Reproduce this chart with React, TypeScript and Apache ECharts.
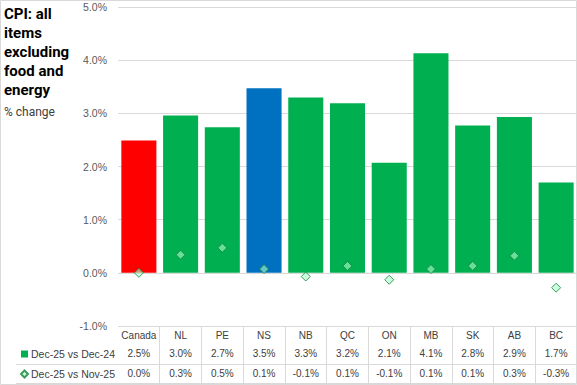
import React, { useEffect, useRef } from 'react';
import * as echarts from 'echarts';

const categories = ['Canada', 'NL', 'PE', 'NS', 'NB', 'QC', 'ON', 'MB', 'SK', 'AB', 'BC'];
const seriesNames = ['Dec-25 vs Dec-24', 'Dec-25 vs Nov-25'];
const yearOverYear = [2.49, 2.96, 2.74, 3.47, 3.3, 3.19, 2.07, 4.13, 2.77, 2.93, 1.7];
const monthOverMonth = [0.0, 0.34, 0.47, 0.07, -0.07, 0.13, -0.13, 0.07, 0.13, 0.32, -0.28];
const yearOverYearLabels = ['2.5%', '3.0%', '2.7%', '3.5%', '3.3%', '3.2%', '2.1%', '4.1%', '2.8%', '2.9%', '1.7%'];
const monthOverMonthLabels = ['0.0%', '0.3%', '0.5%', '0.1%', '-0.1%', '0.1%', '-0.1%', '0.1%', '0.1%', '0.3%', '-0.3%'];
const yMin = -1;
const yMax = 5;
const yInterval = 1;

const GREEN = '#00B050';
const RED = '#FF0000';
const BLUE = '#0070C0';
const GRID = '#d9d9d9';
const barColorFor = (cat: string) => (cat === 'Canada' ? RED : cat === 'NS' ? BLUE : GREEN);

export default function App() {
  const ref = useRef<HTMLDivElement>(null);
  useEffect(() => {
    if (!ref.current) return;
    const chart = echarts.init(ref.current, undefined, { renderer: 'svg' });
    const font = '"Liberation Sans", Arial, sans-serif';
    chart.setOption({
      animation: false,
      textStyle: { fontFamily: font },
      grid: { left: 118, right: 0, top: 7, bottom: 59 },
      legend: {
        orient: 'vertical',
        left: 20,
        top: 347,
        padding: 0,
        itemWidth: 7,
        itemHeight: 7,
        itemGap: 6,
        selectedMode: false,
        textStyle: { fontSize: 10.5, lineHeight: 14, color: '#404040', fontFamily: font, padding: [0, 0, 0, -2] },
        data: [
          { name: seriesNames[0], icon: 'rect' },
          { name: seriesNames[1], icon: 'diamond' },
        ],
      },
      xAxis: {
        type: 'category',
        data: categories,
        position: 'bottom',
        axisLine: { show: false, onZero: false },
        axisTick: {
          show: true,
          length: 58,
          interval: (i: number) => i !== 0,
          lineStyle: { color: GRID },
        },
        axisLabel: {
          interval: 0,
          margin: 1,
          color: '#404040',
          fontSize: 10,
          fontFamily: font,
          formatter: (v: string) => {
            const i = categories.indexOf(v);
            return `{a|${v}}\n{b|${yearOverYearLabels[i]}}\n{c|${monthOverMonthLabels[i]}}`;
          },
          rich: {
            a: { lineHeight: 17, fontSize: 10, color: '#404040', fontFamily: font },
            b: { lineHeight: 18, fontSize: 10, color: '#404040', fontFamily: font },
            c: { lineHeight: 22, fontSize: 10, color: '#404040', fontFamily: font },
          },
        },
      },
      yAxis: {
        type: 'value',
        min: yMin,
        max: yMax,
        interval: yInterval,
        axisLine: { show: false },
        axisTick: { show: false },
        splitLine: { lineStyle: { color: GRID, width: 1 } },
        axisLabel: {
          margin: 11,
          color: '#595959',
          fontSize: 10.5,
          fontFamily: font,
          formatter: (v: number) => `${v.toFixed(1)}%`,
        },
      },
      series: [
        {
          name: seriesNames[0],
          type: 'bar',
          barCategoryGap: '16%',
          itemStyle: { color: GREEN },
          data: yearOverYear.map((v, i) => ({ value: v, itemStyle: { color: barColorFor(categories[i]) } })),
          z: 2,
        },
        {
          name: seriesNames[1],
          type: 'scatter',
          symbol: 'diamond',
          symbolSize: 9,
          itemStyle: {
            color: 'rgba(170,255,200,0.6)',
            borderColor: 'rgba(20,130,60,0.8)',
            borderWidth: 1,
            opacity: 1,
          },
          data: monthOverMonth,
          z: 5,
        },
      ],
      graphic: [
        {
          type: 'text',
          left: 4,
          top: 4,
          style: {
            text: 'CPI: all\nitems\nexcluding\nfood and\nenergy',
            fontFamily: 'Roboto, sans-serif',
            fontWeight: 'bold',
            fontSize: 15,
            lineHeight: 19,
            fill: '#000000',
          },
        },
        {
          type: 'text',
          left: 4,
          top: 106,
          style: {
            text: '% change',
            fontFamily: 'Roboto, sans-serif',
            fontSize: 12,
            fill: '#404040',
          },
        },
        {
          type: 'line',
          shape: { x1: 16, y1: 364.5, x2: 577, y2: 364.5 },
          style: { stroke: GRID, lineWidth: 1 },
        },
        {
          type: 'line',
          shape: { x1: 16, y1: 383.5, x2: 577, y2: 383.5 },
          style: { stroke: GRID, lineWidth: 1 },
        },
        {
          type: 'rect',
          shape: { x: 0.5, y: 0.5, width: 576, height: 384 },
          style: { stroke: GRID, fill: 'none', lineWidth: 1 },
          z: 100,
        },
      ],
    });
    return () => chart.dispose();
  }, []);
  return (
    <div
      ref={ref}
      style={{ position: 'absolute', left: 0, top: 0, width: 577, height: 385, background: '#fff' }}
    />
  );
}
